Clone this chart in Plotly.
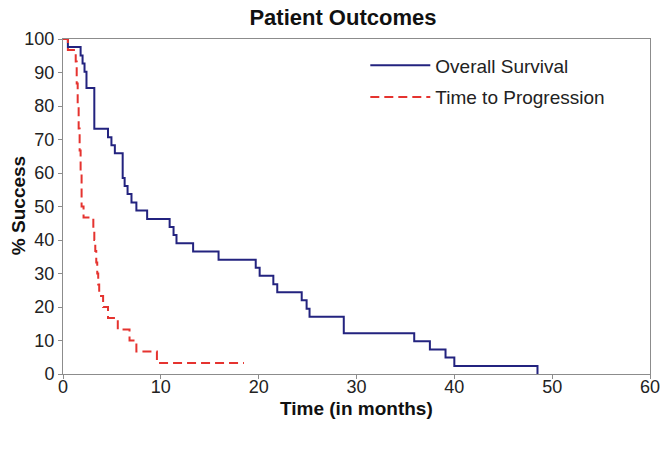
import plotly.graph_objects as go

# Overall Survival (Kaplan-Meier steps: time in months, % success after event)
os_time = [0, 0.5, 1.8, 2.0, 2.2, 2.4, 3.2, 4.6, 4.95, 5.3, 6.1, 6.3, 6.6, 7.0, 7.5, 8.6,
           10.9, 11.3, 11.6, 13.3, 15.9, 19.7, 20.1, 21.5, 21.9, 24.4, 24.9, 25.2, 28.7,
           35.9, 37.5, 39.1, 40.0, 48.5]
os_surv = [100, 97.6, 95.1, 92.7, 90.2, 85.4, 73.2, 70.7, 68.3, 65.9, 58.5, 56.1, 53.7, 51.2,
           48.8, 46.3, 43.9, 41.5, 39.0, 36.6, 34.1, 31.7, 29.3, 26.8, 24.4, 22.0, 19.5, 17.1,
           12.2, 9.8, 7.3, 4.9, 2.4, 0]

# Time to Progression
ttp_time = [0, 0.5, 1.3, 1.4, 1.5, 1.6, 1.7, 1.8, 1.9, 2.1, 3.1, 3.2, 3.3, 3.4, 3.5, 3.6,
            3.7, 4.1, 4.6, 5.6, 6.8, 7.5, 9.6, 18.5]
ttp_prog = [100, 96.7, 93.3, 86.7, 80.0, 73.3, 66.7, 60.0, 50.0, 46.7, 43.3, 40.0, 36.7, 33.3,
            30.0, 26.7, 23.3, 20.0, 16.7, 13.3, 10.0, 6.7, 3.3, 3.3]

x_ticks = [0, 10, 20, 30, 40, 50, 60]
y_ticks = [0, 10, 20, 30, 40, 50, 60, 70, 80, 90, 100]

FONT = "Liberation Sans, Arial, sans-serif"

fig = go.Figure()
fig.add_trace(go.Scatter(x=os_time, y=os_surv, mode="lines", line_shape="hv",
                         name="Overall Survival", legendgroup="a",
                         line=dict(color="#23237f", width=2)))
fig.add_trace(go.Scatter(x=ttp_time, y=ttp_prog, mode="lines", line_shape="hv",
                         name="Time to Progression", legendgroup="b",
                         line=dict(color="#e5332f", width=2, dash="9px,5px")))

axis_common = dict(showgrid=False, zeroline=False, showline=True, mirror=True,
                   linecolor="#8c8c8c", linewidth=1, ticks="outside", ticklen=4,
                   tickcolor="#8c8c8c", automargin=False,
                   tickfont=dict(family=FONT, size=18, color="#222"))

fig.update_layout(
    width=662, height=449,
    margin=dict(l=63, r=12, t=39, b=75),
    paper_bgcolor="white", plot_bgcolor="white",
    title=dict(text="<b>Patient Outcomes</b>", xref="container", x=0.518, xanchor="center",
               yref="container", y=0.962, yanchor="middle", automargin=False,
               font=dict(family=FONT, size=22, color="#111")),
    xaxis=dict(range=[0, 60], tickvals=x_ticks, ticklabelstandoff=-8, **axis_common),
    yaxis=dict(range=[0, 100], tickvals=y_ticks, **axis_common),
    legend=dict(x=0.515, y=0.978, xanchor="left", yanchor="top", bgcolor="rgba(0,0,0,0)",
                font=dict(family=FONT, size=19, color="#222"), tracegroupgap=4,
                itemwidth=60),
    showlegend=True,
    annotations=[
        dict(text="<b>Time (in months)</b>", xref="paper", yref="paper",
             x=0.5, y=-0.1015, xanchor="center", yanchor="middle",
             showarrow=False, font=dict(family=FONT, size=19, color="#111")),
        dict(text="<b>% Success</b>", xref="paper", yref="paper", textangle=-90,
             x=-0.0767, y=0.504, xanchor="center", yanchor="middle",
             showarrow=False, font=dict(family=FONT, size=19, color="#111")),
    ],
)

fig.write_html("out.html", config={"displayModeBar": False},
               post_script="document.body.style.margin='0';document.body.style.overflow='hidden';")
